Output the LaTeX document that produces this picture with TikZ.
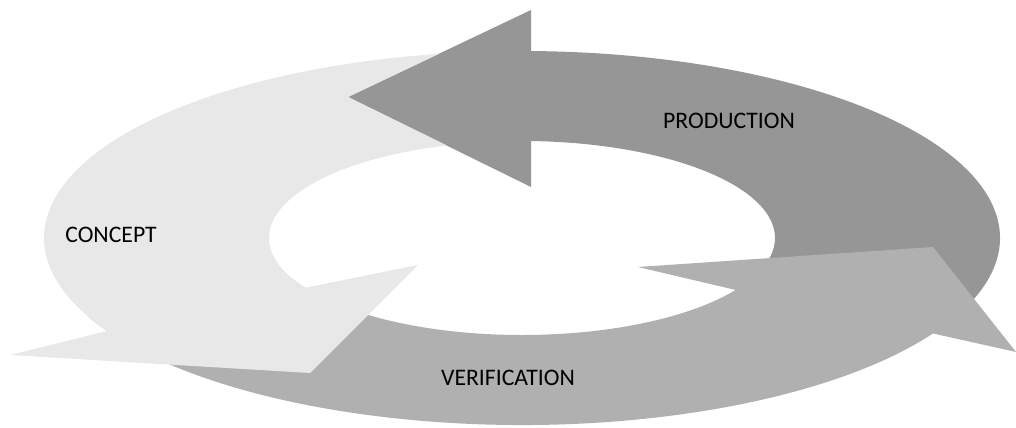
\documentclass[tikz,border=0pt]{standalone}
\usepackage{xcolor}
\usepackage{fontspec}
\setmainfont{Carlito}
\usepackage{tikz}

\begin{document}
\begin{tikzpicture}[x=0.02cm, y=-0.02cm,
    prodarrow/.style={fill=black!41},
    verifarrow/.style={fill=black!31},
    conceptarrow/.style={fill=black!9},
    phase/.style={text=black, inner sep=0, font=\fontsize{13.5}{16}\selectfont}]
    \useasboundingbox (0,0) rectangle (1016,428);
    \begin{scope}[shift={(522,238)}]
    \fill[prodarrow] (20:478 and 187) arc[start angle=20, end angle=-88.9, x radius=478, y radius=187] -- (9,-228) -- (-174,-141) -- (9,-51) -- (-87.96:253 and 97) arc[start angle=-87.96, end angle=20, x radius=253, y radius=97] -- cycle;
    \fill[verifarrow] (155:478 and 187) arc[start angle=155, end angle=30.7, x radius=478, y radius=187] -- (494,114) -- (411,9) -- (116,29) -- (32.4:253 and 97) arc[start angle=32.4, end angle=155, x radius=253, y radius=97] -- cycle;
    \fill[conceptarrow] (260:478 and 187) arc[start angle=260, end angle=150.2, x radius=478, y radius=187] -- (-512,117) -- (-212,135) -- (-104,27) -- (149.1:253 and 97) arc[start angle=149.1, end angle=252.7, x radius=253, y radius=97] -- (-174,-141) -- cycle;
    \end{scope}
    \node (production) [phase] at (729,121) {PRODUCTION};
    \node (concept) [phase] at (111,235) {CONCEPT};
    \node (verification) [phase] at (508,378) {VERIFICATION};
\end{tikzpicture}
\end{document}
